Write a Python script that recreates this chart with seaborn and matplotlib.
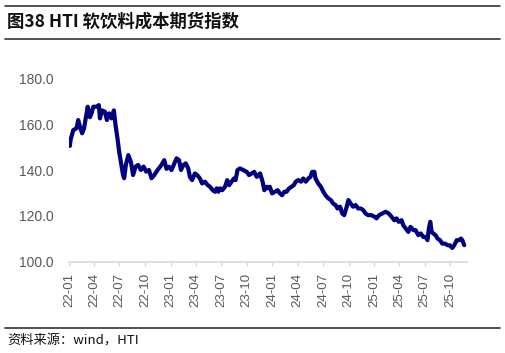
import pandas as pd
import matplotlib
matplotlib.use("Agg")
import matplotlib.pyplot as plt
import matplotlib.dates as mdates
from matplotlib.ticker import FormatStrFormatter
import seaborn as sns

# HTI soft-drink cost futures index
dates = [
    "2022-01-04", "2022-01-07", "2022-01-11", "2022-01-16", "2022-01-28", "2022-02-03",
    "2022-02-09", "2022-02-17", "2022-02-24", "2022-03-03", "2022-03-09", "2022-03-17",
    "2022-03-23", "2022-03-29", "2022-04-10", "2022-04-18", "2022-04-22", "2022-04-30",
    "2022-05-10", "2022-05-17", "2022-05-25", "2022-06-03", "2022-06-11", "2022-06-17",
    "2022-06-24", "2022-06-30", "2022-07-06", "2022-07-14", "2022-07-18", "2022-07-24",
    "2022-08-02", "2022-08-11", "2022-08-19", "2022-08-28", "2022-09-06", "2022-09-16",
    "2022-09-26", "2022-10-05", "2022-10-15", "2022-10-24", "2022-11-03", "2022-11-15",
    "2022-11-29", "2022-12-09", "2022-12-17", "2022-12-26",
    "2023-01-04", "2023-01-14", "2023-01-22", "2023-01-31", "2023-02-07", "2023-02-15",
    "2023-02-24", "2023-03-05", "2023-03-11", "2023-03-19", "2023-03-29", "2023-04-06",
    "2023-04-16", "2023-04-24", "2023-05-04", "2023-05-14", "2023-05-22", "2023-06-01",
    "2023-06-09", "2023-06-15", "2023-06-21", "2023-06-27", "2023-07-05", "2023-07-15",
    "2023-07-23", "2023-07-30", "2023-08-08", "2023-08-16", "2023-08-22", "2023-08-29",
    "2023-09-07", "2023-09-18", "2023-10-01", "2023-10-09", "2023-10-19", "2023-10-28",
    "2023-11-06", "2023-11-18", "2023-11-27", "2023-12-03", "2023-12-12", "2023-12-17",
    "2023-12-23", "2023-12-31",
    "2024-01-10", "2024-01-20", "2024-01-28", "2024-02-05", "2024-02-13", "2024-02-21",
    "2024-03-01", "2024-03-10", "2024-03-18", "2024-03-25", "2024-04-03", "2024-04-13",
    "2024-04-21", "2024-04-30", "2024-05-09", "2024-05-17", "2024-05-23", "2024-05-31",
    "2024-06-04", "2024-06-14", "2024-06-23", "2024-07-02", "2024-07-10", "2024-07-20",
    "2024-07-29", "2024-08-06", "2024-08-15", "2024-08-22", "2024-08-31", "2024-09-08",
    "2024-09-15", "2024-09-24", "2024-09-30", "2024-10-08", "2024-10-17", "2024-10-26",
    "2024-11-04", "2024-11-14", "2024-11-22", "2024-12-01", "2024-12-10", "2024-12-22",
    "2025-01-02", "2025-01-09", "2025-01-18", "2025-01-29", "2025-02-11", "2025-02-22",
    "2025-03-04", "2025-03-14", "2025-03-22", "2025-03-30", "2025-04-09", "2025-04-15",
    "2025-04-24", "2025-05-03", "2025-05-11", "2025-05-21", "2025-05-29", "2025-06-08",
    "2025-06-17", "2025-06-26", "2025-07-04", "2025-07-11", "2025-07-16", "2025-07-21",
    "2025-07-26", "2025-08-01", "2025-08-09", "2025-08-16", "2025-08-25", "2025-09-02",
    "2025-09-12", "2025-09-21", "2025-09-29", "2025-10-08", "2025-10-15", "2025-10-24",
    "2025-11-01", "2025-11-08", "2025-11-13", "2025-11-20",
]
index_values = [
    150.5, 153.5, 155.0, 157.4, 158.2, 161.8,
    159.0, 156.0, 158.2, 163.2, 167.6, 163.0,
    164.7, 167.6, 167.6, 168.3, 162.5, 166.0,
    165.4, 161.8, 164.7, 162.5, 166.0, 159.6,
    153.8, 148.0, 143.6, 137.8, 136.4, 142.2,
    146.5, 143.6, 137.8, 141.5, 142.2, 140.0,
    141.5, 139.3, 140.0, 136.4, 137.8, 140.0,
    142.2, 144.3, 140.5, 141.4,
    140.0, 142.9, 145.1, 144.3, 140.0, 142.1,
    142.9, 140.7, 137.0, 135.6, 138.5, 137.8,
    136.3, 134.1, 134.9, 133.4, 132.7, 131.2,
    130.5, 132.0, 130.5, 132.0, 131.2, 132.7,
    135.6, 133.4, 134.9, 136.3, 135.6, 140.0,
    140.7, 140.0, 139.2, 137.8, 138.5, 139.2,
    137.0, 138.5, 134.9, 131.2, 132.7, 132.0,
    132.7, 129.8,
    130.5, 131.2, 129.8, 129.0, 130.5, 130.5,
    132.0, 132.7, 133.4, 134.9, 135.6, 134.9,
    136.3, 134.9, 136.3, 137.0, 139.2, 139.2,
    136.3, 134.1, 132.7, 130.5, 129.0, 127.6,
    126.9, 125.4, 124.7, 123.2, 124.0, 121.0,
    120.3, 124.0, 126.9, 125.4, 124.0, 124.7,
    123.2, 123.2, 122.5, 121.0, 120.3, 120.3,
    119.6, 118.9, 120.3, 121.0, 121.8, 121.0,
    119.6, 118.1, 118.9, 117.4, 118.1, 115.9,
    114.5, 113.0, 115.2, 113.8, 113.8, 111.6,
    112.3, 110.8, 110.8, 109.4, 114.5, 117.4,
    113.0, 112.3, 111.6, 110.1, 109.4, 107.9,
    107.9, 107.2, 107.2, 106.0, 107.2, 109.4,
    109.4, 110.1, 109.4, 107.2,
]

title_text = "图38 HTI 软饮料成本期货指数"
source_text = "资料来源：wind，HTI"

df = pd.DataFrame({"date": pd.to_datetime(dates), "value": index_values})

sns.set_theme(style="white")
plt.rcParams["font.family"] = ["Liberation Sans", "Noto Sans CJK SC", "DejaVu Sans"]

fig = plt.figure(figsize=(5.06, 3.53), dpi=100)
ax = fig.add_axes([0.1364, 0.2586, 0.7866, 0.5196])

sns.lineplot(data=df, x="date", y="value", color="#000080", linewidth=3.0, ax=ax)

ax.set_ylim(100, 180)
ax.set_yticks([100, 120, 140, 160, 180])
ax.yaxis.set_major_formatter(FormatStrFormatter("%.1f"))
ax.set_xlim(pd.Timestamp("2022-01-01"), pd.Timestamp("2025-11-30"))
ax.xaxis.set_major_locator(mdates.MonthLocator(bymonth=[1, 4, 7, 10]))
ax.xaxis.set_major_formatter(mdates.DateFormatter("%y-%m"))
ax.set_xlabel("")
ax.set_ylabel("")

for side in ["top", "right", "left"]:
    ax.spines[side].set_visible(False)
ax.spines["bottom"].set_color("#d9d9d9")
ax.spines["bottom"].set_linewidth(1.2)

ax.tick_params(axis="y", length=0, pad=11, labelsize=10, labelcolor="#595959")
ax.tick_params(axis="x", bottom=True, length=3, width=1, color="#d9d9d9",
               pad=5, labelsize=9.5, labelcolor="#595959")
for lbl in ax.get_xticklabels():
    lbl.set_rotation(90)
    lbl.set_ha("center")
    lbl.set_va("top")

# header and footer rules
fig.add_artist(plt.Line2D([5 / 506, 500 / 506], [1 - 6 / 353, 1 - 6 / 353],
                          color="#333333", linewidth=1.2))
fig.add_artist(plt.Line2D([5 / 506, 500 / 506], [1 - 39 / 353, 1 - 39 / 353],
                          color="#333333", linewidth=1.2))
fig.add_artist(plt.Line2D([5 / 506, 500 / 506], [1 - 328 / 353, 1 - 328 / 353],
                          color="#333333", linewidth=1.2))

fig.text(7 / 506, 1 - 22 / 353, title_text, fontsize=12.5, fontweight="bold",
         family=["Noto Sans CJK SC", "DejaVu Sans"], color="#111111", va="center", ha="left")
fig.text(7 / 506, 1 - 341 / 353, source_text, fontsize=9.5,
         family=["Noto Sans CJK SC", "DejaVu Sans"], color="#111111", va="center", ha="left")

fig.savefig("out.png", dpi=100)
